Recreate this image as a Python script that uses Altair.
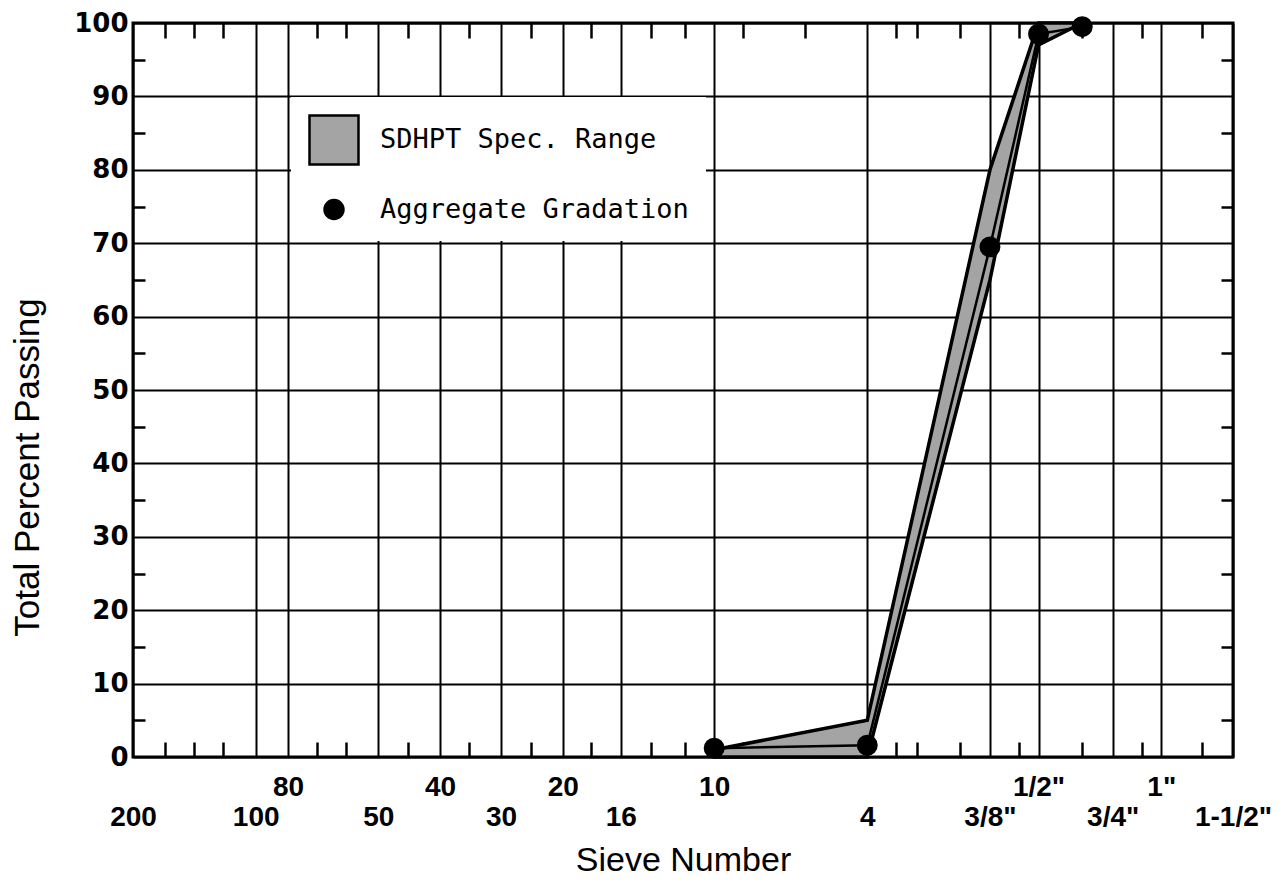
import json
import altair as alt
import pandas as pd

# ---------------- data ----------------
# labelled sieves (opening in mm) and their labels
axis_sieve_mm = [0.075, 0.15, 0.18, 0.3, 0.425, 0.6, 0.85, 1.18, 2.0, 4.75, 9.5, 12.5, 19.0, 25.0, 37.5]
axis_sieve_labels = ["200", "100", "80", "50", "40", "30", "20", "16", "10", "4",
                     '3/8"', '1/2"', '3/4"', '1"', '1-1/2"']
upper_row_labels = ["80", "40", "20", "10", '1/2"', '1"']
# intermediate sieves shown as short ticks
minor_sieve_mm = [0.09, 0.106, 0.125, 0.212, 0.25, 0.355, 0.5, 0.71, 1.0, 1.4, 1.7,
                  2.36, 3.35, 5.6, 6.3, 8.0, 11.2, 16.0, 22.4, 31.5]

# SDHPT specification band
spec_sieve_mm = [2.0, 4.75, 9.5, 12.5, 16.0]
spec_lower = [0, 0, 65, 97, 100]
spec_upper = [1, 5, 80, 100, 100]

# aggregate gradation
agg_sieve_mm = [2.0, 4.75, 9.5, 12.5, 16.0]
agg_passing = [1.2, 1.6, 69.5, 98.5, 99.5]

y_major = list(range(0, 101, 10))
y_minor = list(range(5, 100, 10))

series_names = ["SDHPT Spec. Range", "Aggregate Gradation"]

# ---------------- tables ----------------
spec_df = pd.DataFrame({"mm": spec_sieve_mm, "lower": spec_lower, "upper": spec_upper,
                        "series": series_names[0]})
agg_df = pd.DataFrame({"mm": agg_sieve_mm, "passing": agg_passing, "series": series_names[1]})

labels_js = json.dumps([lab if lab in upper_row_labels else ["", lab] for lab in axis_sieve_labels])
values_js = json.dumps(axis_sieve_mm)
label_expr = f"{labels_js}[indexof({values_js}, datum.value)]"

xscale = alt.Scale(type="log", domain=[0.075, 37.5], nice=False)
yscale = alt.Scale(domain=[0, 100], nice=False)

legend = alt.Legend(orient="none", legendX=158, legendY=74, title=None,
                    fillColor="white", padding=17, rowPadding=25, labelOffset=20,
                    labelFont="DejaVu Sans Mono", labelFontSize=27, labelColor="black",
                    labelLimit=0, symbolStrokeColor="black", symbolStrokeWidth=2.5,
                    symbolOpacity=1)
fill_scale = alt.Scale(domain=series_names, range=["#a4a4a4", "black"])
stroke_scale = alt.Scale(domain=series_names, range=["black", "black"])
shape_scale = alt.Scale(domain=series_names, range=["square", "circle"])
size_scale = alt.Scale(type="ordinal", domain=series_names, range=[2400, 360])

main_x_axis = alt.Axis(orient="bottom", values=axis_sieve_mm, labelExpr=label_expr,
                       grid=True, gridColor="black", gridWidth=2, gridOpacity=1,
                       ticks=False, domain=False,
                       labelFont="Liberation Sans", labelFontWeight="bold", labelFontSize=28,
                       labelColor="black", labelBaseline="top", labelPadding=16,
                       labelLineHeight=30, labelOverlap=False, labelBound=False, labelFlush=False,
                       title="Sieve Number", titleFont="Liberation Sans", titleFontSize=34,
                       titleFontWeight="normal", titleColor="black", titleY=103,
                       titleBaseline="middle")
main_y_axis = alt.Axis(orient="left", values=y_major, grid=True, gridColor="black",
                       gridWidth=2, gridOpacity=1, ticks=False, domain=False,
                       labelFont="DejaVu Sans", labelFontWeight="bold", labelFontSize=26,
                       labelColor="black", labelPadding=5,
                       title="Total Percent Passing", titleFont="Liberation Sans",
                       titleFontSize=35, titleFontWeight="normal", titleColor="black",
                       titleX=-106, titleY=444, titleAngle=270, titleBaseline="middle",
                       titleAlign="center")


def minor_axis(orient, vals, size):
    return alt.Axis(orient=orient, values=vals, labels=False, domain=False, grid=False,
                    ticks=True, tickSize=size, tickWidth=2.5, tickColor="black",
                    offset=-size, title=None)


band = alt.Chart(spec_df).mark_area(opacity=1, strokeWidth=2).encode(
    x=alt.X("mm:Q", scale=xscale, axis=main_x_axis),
    y=alt.Y("upper:Q", scale=yscale, axis=main_y_axis),
    y2="lower:Q",
    fill=alt.Fill("series:N", scale=fill_scale, legend=legend),
    stroke=alt.Stroke("series:N", scale=stroke_scale, legend=legend),
)

upper_line = alt.Chart(spec_df).mark_line(color="black", strokeWidth=3.5).encode(
    x=alt.X("mm:Q", scale=xscale, axis=minor_axis("bottom", minor_sieve_mm, 15)),
    y=alt.Y("upper:Q", scale=yscale, axis=minor_axis("left", y_minor, 12)),
)
lower_line = alt.Chart(spec_df).mark_line(color="black", strokeWidth=3.5).encode(
    x=alt.X("mm:Q", scale=xscale, axis=minor_axis("top", minor_sieve_mm, 15)),
    y=alt.Y("lower:Q", scale=yscale, axis=minor_axis("right", y_minor, 12)),
)

agg_line = alt.Chart(agg_df).mark_line(color="black", strokeWidth=2.5).encode(
    x=alt.X("mm:Q", scale=xscale, axis=None),
    y=alt.Y("passing:Q", scale=yscale, axis=None),
)
agg_points = alt.Chart(agg_df).mark_point(filled=True, opacity=1).encode(
    x=alt.X("mm:Q", scale=xscale, axis=None),
    y=alt.Y("passing:Q", scale=yscale, axis=None),
    fill=alt.Fill("series:N", scale=fill_scale, legend=legend),
    stroke=alt.Stroke("series:N", scale=stroke_scale, legend=legend),
    shape=alt.Shape("series:N", scale=shape_scale, legend=legend),
    size=alt.Size("series:N", scale=size_scale, legend=legend),
)

chart = alt.layer(band, upper_line, lower_line, agg_line, agg_points).resolve_axis(
    x="independent", y="independent"
).properties(
    width=1100, height=734,
    autosize=alt.AutoSizeParams(type="none"),
    padding={"left": 125, "top": 15, "right": 41, "bottom": 125},
    background="white",
).configure_view(stroke="black", strokeWidth=3)

chart.save("out.html", embed_options={"renderer": "svg", "actions": False})
